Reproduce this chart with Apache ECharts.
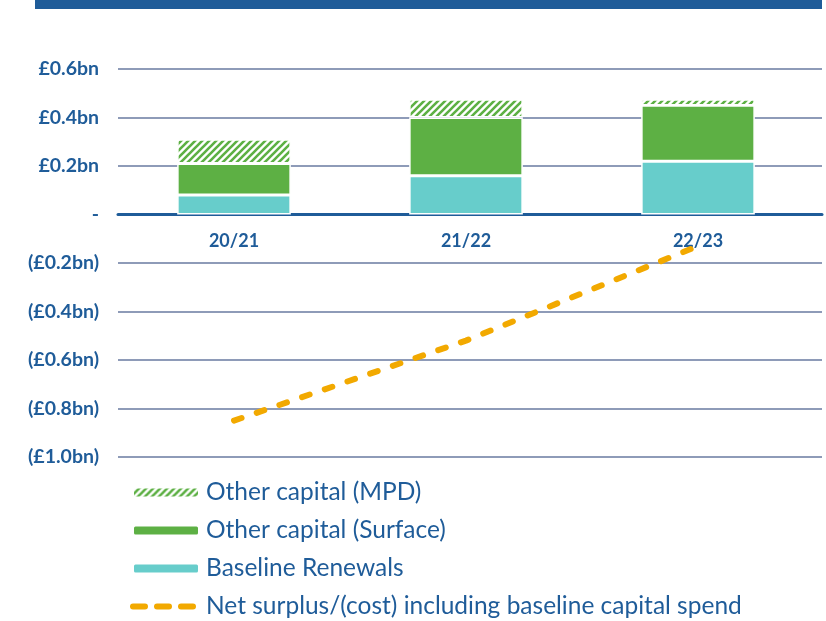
<!DOCTYPE html>
<html>
<head>
<meta charset="utf-8">
<script src="https://cdn.jsdelivr.net/npm/echarts@6/dist/echarts.min.js"></script>
<style>
    html, body { margin: 0; padding: 0; background: #fff; }
    #chart { width: 826px; height: 621px; }
</style>
</head>
<body>
<div id="chart"></div>
<script>
// 数据
const categories = ["20/21", "21/22", "22/23"];
const baselineRenewals = [0.08, 0.16, 0.22];
const otherSurface = [0.13, 0.24, 0.23];
const otherMPD = [0.10, 0.075, 0.025];
const netSurplus = [-0.85, -0.52, -0.13];

const blue = "#1f5c99";
const green = "#5db044";
const teal = "#67cdcb";
const orange = "#f2a900";
const font = "Lato";

const yMin = -1;
const yMax = 0.6;
const gridTop = 69;
const gridBottom = 164;
const plotHeight = 621 - gridTop - gridBottom;
// 类目标签放在零线下方
const zeroOffset = -plotHeight * (0 - yMin) / (yMax - yMin);

// 斜线填充
function hatch() {
    let s = 7;
    let c = document.createElement("canvas");
    c.width = s;
    c.height = s;
    let ctx = c.getContext("2d");
    ctx.fillStyle = "#fff";
    ctx.fillRect(0, 0, s, s);
    ctx.strokeStyle = green;
    ctx.lineWidth = 2.6;
    ctx.beginPath();
    ctx.moveTo(-s, s * 2); ctx.lineTo(s * 2, -s);
    ctx.moveTo(-s, s); ctx.lineTo(s, -s);
    ctx.moveTo(0, s * 2); ctx.lineTo(s * 2, 0);
    ctx.stroke();
    return { image: c, repeat: "repeat" };
}

function yLabel(v) {
    v = Math.round(v * 10) / 10;
    if (v === 0) return "-";
    if (v > 0) return "£" + v.toFixed(1) + "bn";
    return "(£" + Math.abs(v).toFixed(1) + "bn)";
}

let chart = echarts.init(document.getElementById("chart"));
chart.setOption({
    animation: false,
    graphic: [{
        type: "rect",
        shape: { x: 35, y: 0, width: 787, height: 9 },
        style: { fill: blue }
    }],
    grid: [
        { left: 118, right: 12, top: gridTop, bottom: gridBottom },
        { left: 118, right: 4, top: gridTop, bottom: gridBottom }
    ],
    legend: {
        orient: "vertical",
        left: 130,
        top: 480,
        height: 160,
        padding: 0,
        itemWidth: 66,
        itemHeight: 10,
        itemGap: 13,
        data: [
            "Other capital (MPD)",
            "Other capital (Surface)",
            "Baseline Renewals",
            {
                name: "Net surplus/(cost) including baseline capital spend",
                itemStyle: { opacity: 0 },
                lineStyle: { width: 6, type: [12, 12], cap: "round" }
            }
        ],
        textStyle: { fontFamily: font, fontSize: 24.5, color: blue, padding: [0, 0, 0, 2] }
    },
    xAxis: [{
        type: "category",
        gridIndex: 0,
        data: categories,
        position: "bottom",
        offset: zeroOffset,
        axisLine: { show: false, onZero: false },
        axisTick: { show: false },
        axisLabel: { color: blue, fontFamily: font, fontSize: 18, fontWeight: "bold", margin: 18 }
    }, {
        type: "category",
        gridIndex: 1,
        data: categories,
        axisLine: { onZero: true, lineStyle: { color: blue, width: 3 } },
        axisTick: { show: false },
        axisLabel: { show: false }
    }],
    yAxis: [{
        type: "value",
        gridIndex: 0,
        min: yMin,
        max: yMax,
        interval: 0.2,
        axisLine: { show: false },
        axisTick: { show: false },
        splitLine: { show: false },
        axisLabel: { formatter: yLabel, color: blue, fontFamily: font, fontSize: 19.5, fontWeight: "bold", margin: 19 }
    }, {
        type: "value",
        gridIndex: 1,
        min: yMin,
        max: yMax,
        interval: 0.2,
        axisLine: { show: false },
        axisTick: { show: false },
        axisLabel: { show: false },
        splitLine: { lineStyle: { color: "#8e9bb8", width: 2 } }
    }],
    series: [{
        name: "Baseline Renewals",
        type: "bar",
        stack: "cap",
        barWidth: "49%",
        data: baselineRenewals,
        itemStyle: { color: teal, borderColor: "#fff", borderWidth: 1.5 }
    }, {
        name: "Other capital (Surface)",
        type: "bar",
        stack: "cap",
        data: otherSurface,
        itemStyle: { color: green, borderColor: "#fff", borderWidth: 1.5 }
    }, {
        name: "Other capital (MPD)",
        type: "bar",
        stack: "cap",
        data: otherMPD,
        itemStyle: { color: hatch(), borderColor: "#fff", borderWidth: 1.5 }
    }, {
        name: "Net surplus/(cost) including baseline capital spend",
        type: "line",
        data: netSurplus,
        symbol: "none",
        z: 10,
        itemStyle: { color: orange },
        lineStyle: { color: orange, width: 6, type: [8, 16], cap: "round" }
    }]
});
</script>
</body>
</html>
